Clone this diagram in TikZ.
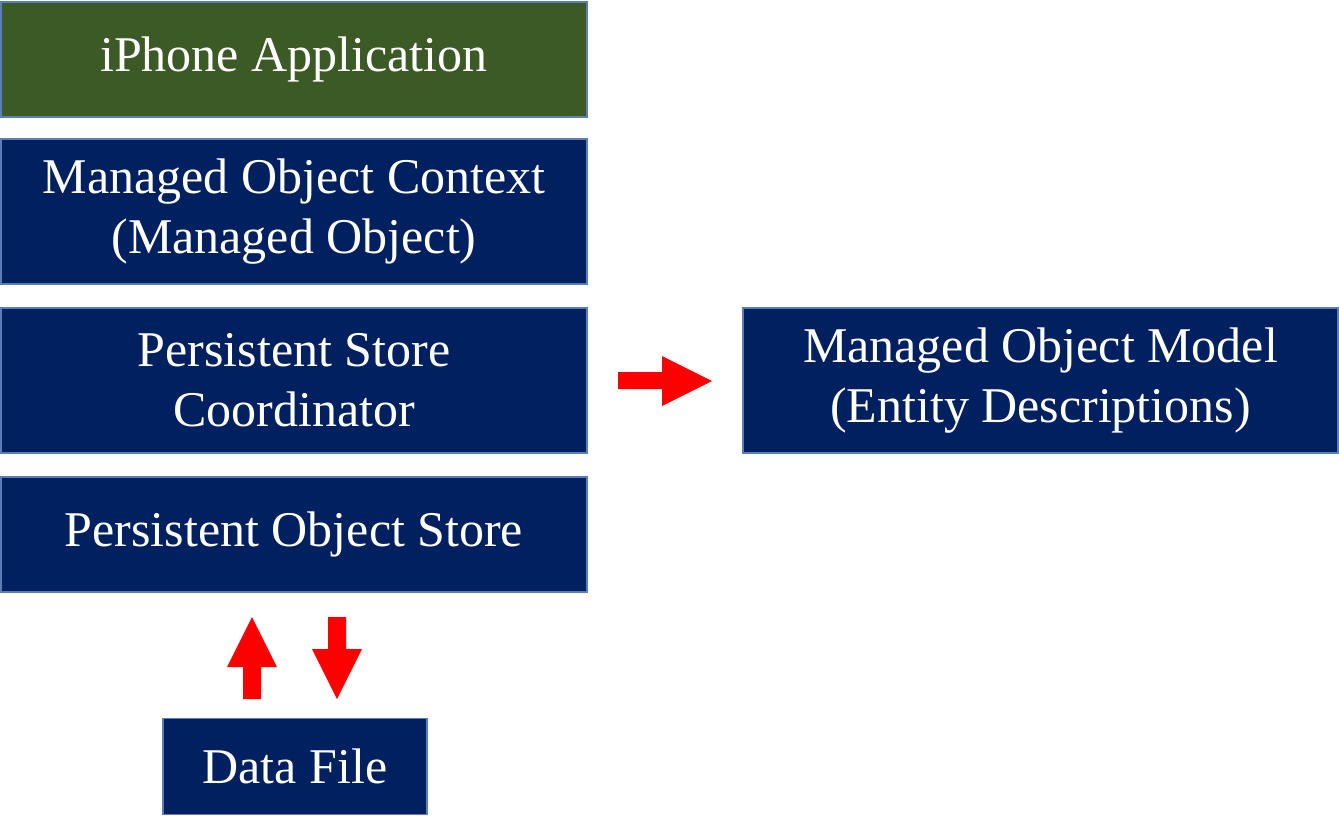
\documentclass[tikz,border=0pt]{standalone}
\usepackage{fontspec}
\setmainfont{Liberation Serif}
\definecolor{navy}{HTML}{002060}
\definecolor{leaf}{HTML}{3C5A26}
\definecolor{edge}{HTML}{5B7DB8}
\definecolor{arrowred}{HTML}{FF0000}
\begin{document}
\begin{tikzpicture}[x=1pt,y=-1pt,
  box/.style={draw=edge,line width=1.2pt,fill=navy,text=white,inner sep=0pt,
    align=center,font=\fontsize{50}{60}\selectfont},
  blockarrow/.style={fill=arrowred,draw=none}]
\useasboundingbox (0,0) rectangle (1339,827);
\node[box,fill=leaf,minimum width=586pt,minimum height=115pt] (app) at (294,59.5) {iPhone Application};
\node[box,minimum width=586pt,minimum height=145pt] (moc) at (294,211.5) {Managed Object Context\\(Managed Object)};
\node[box,minimum width=586pt,minimum height=145pt] (psc) at (294,380.5) {Persistent Store\\Coordinator};
\node[box,minimum width=586pt,minimum height=115pt] (pos) at (294,534.5) {Persistent Object Store};
\node[box,minimum width=595pt,minimum height=145pt] (mom) at (1040.5,380.5) {Managed Object Model\\(Entity Descriptions)};
\node[box,minimum width=264pt,minimum height=96pt] (df) at (295,766.5) {Data File};
% right arrow
\fill[blockarrow] (618,372) -- (662,372) -- (662,356) -- (712,381) -- (662,406) -- (662,389) -- (618,389) -- cycle;
% up arrow
\fill[blockarrow] (243,699) -- (243,667) -- (227,667) -- (252,617) -- (277,667) -- (261,667) -- (261,699) -- cycle;
% down arrow
\fill[blockarrow] (328,617) -- (346,617) -- (346,649) -- (362,649) -- (337,699) -- (312,649) -- (328,649) -- cycle;
\end{tikzpicture}
\end{document}
